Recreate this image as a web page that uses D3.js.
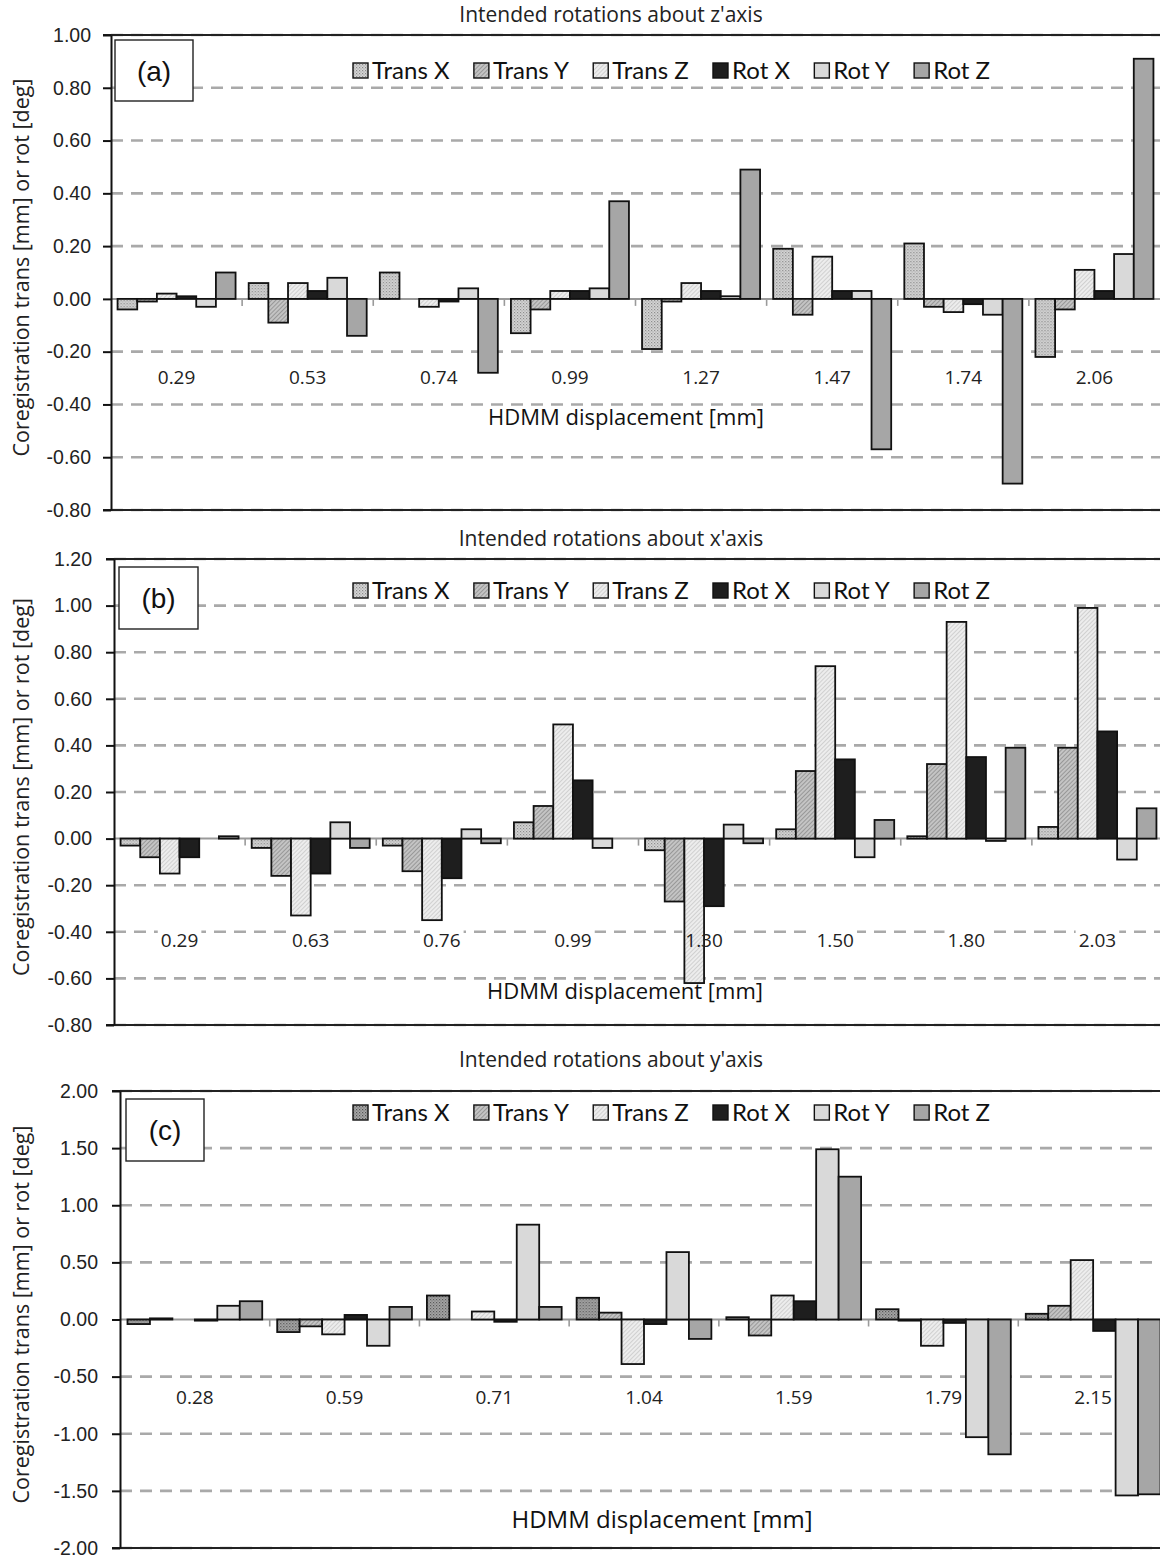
<!DOCTYPE html>
<html>
<head>
<meta charset="utf-8">
<script src="https://cdn.jsdelivr.net/npm/d3@7"></script>
<style>
  body { margin: 0; background: #fff; }
  svg { display: block; }
</style>
</head>
<body>
<div id="chart"></div>
<script>
// ── Coregistration errors for intended rotations (3 panels) ─────
const seriesNames = ["Trans X", "Trans Y", "Trans Z", "Rot X", "Rot Y", "Rot Z"];

// (a) rotations about z' axis
const catsA = ["0.29", "0.53", "0.74", "0.99", "1.27", "1.47", "1.74", "2.06"];
const valuesA = [
    [-0.04, -0.01,  0.02,  0.01, -0.03,  0.10],
    [ 0.06, -0.09,  0.06,  0.03,  0.08, -0.14],
    [ 0.10,  0.00, -0.03, -0.01,  0.04, -0.28],
    [-0.13, -0.04,  0.03,  0.03,  0.04,  0.37],
    [-0.19, -0.01,  0.06,  0.03,  0.01,  0.49],
    [ 0.19, -0.06,  0.16,  0.03,  0.03, -0.57],
    [ 0.21, -0.03, -0.05, -0.02, -0.06, -0.70],
    [-0.22, -0.04,  0.11,  0.03,  0.17,  0.91]
];
const ticksA = [-0.8, -0.6, -0.4, -0.2, 0, 0.2, 0.4, 0.6, 0.8, 1.0];

// (b) rotations about x' axis
const catsB = ["0.29", "0.63", "0.76", "0.99", "1.30", "1.50", "1.80", "2.03"];
const valuesB = [
    [-0.03, -0.08, -0.15, -0.08,  0.00,  0.01],
    [-0.04, -0.16, -0.33, -0.15,  0.07, -0.04],
    [-0.03, -0.14, -0.35, -0.17,  0.04, -0.02],
    [ 0.07,  0.14,  0.49,  0.25, -0.04,  0.00],
    [-0.05, -0.27, -0.62, -0.29,  0.06, -0.02],
    [ 0.04,  0.29,  0.74,  0.34, -0.08,  0.08],
    [ 0.01,  0.32,  0.93,  0.35, -0.01,  0.39],
    [ 0.05,  0.39,  0.99,  0.46, -0.09,  0.13]
];
const ticksB = [-0.8, -0.6, -0.4, -0.2, 0, 0.2, 0.4, 0.6, 0.8, 1.0, 1.2];

// (c) rotations about y' axis
const catsC = ["0.28", "0.59", "0.71", "1.04", "1.59", "1.79", "2.15"];
const valuesC = [
    [-0.04,  0.01,  0.00, -0.01,  0.12,  0.16],
    [-0.11, -0.06, -0.13,  0.04, -0.23,  0.11],
    [ 0.21,  0.00,  0.07, -0.02,  0.83,  0.11],
    [ 0.19,  0.06, -0.39, -0.04,  0.59, -0.17],
    [ 0.02, -0.14,  0.21,  0.16,  1.49,  1.25],
    [ 0.09, -0.01, -0.23, -0.03, -1.03, -1.18],
    [ 0.05,  0.12,  0.52, -0.10, -1.54, -1.53]
];
const ticksC = [-2, -1.5, -1, -0.5, 0, 0.5, 1, 1.5, 2];

const W = 1160, H = 1558;
const svg = d3.select("#chart").append("svg")
    .attr("width", W).attr("height", H)
    .attr("viewBox", `0 0 ${W} ${H}`);

// Fill patterns
const defs = svg.append("defs");
function dotPattern(id, bg, dot) {
    const p = defs.append("pattern").attr("id", id)
        .attr("width", 3).attr("height", 3).attr("patternUnits", "userSpaceOnUse");
    p.append("rect").attr("width", 3).attr("height", 3).attr("fill", bg);
    p.append("rect").attr("x", 0).attr("y", 0).attr("width", 1.2).attr("height", 1.2).attr("fill", dot);
    p.append("rect").attr("x", 1.5).attr("y", 1.5).attr("width", 1.0).attr("height", 1.0).attr("fill", dot);
}
function hatchPattern(id, bg, line) {
    const p = defs.append("pattern").attr("id", id)
        .attr("width", 3).attr("height", 3).attr("patternUnits", "userSpaceOnUse")
        .attr("patternTransform", "rotate(45)");
    p.append("rect").attr("width", 3).attr("height", 3).attr("fill", bg);
    p.append("line").attr("x1", 0).attr("y1", 0).attr("x2", 0).attr("y2", 3)
        .attr("stroke", line).attr("stroke-width", 1.2);
}
dotPattern("dotsLight", "#d6d6d6", "#8a8a8a");
dotPattern("dotsDark", "#a8a8a8", "#555");
hatchPattern("hatchMid", "#c4c4c4", "#7a7a7a");
hatchPattern("hatchLight", "#ededed", "#bdbdbd");

const fillsAB = ["url(#dotsLight)", "url(#hatchMid)", "url(#hatchLight)", "#1e1e1e", "#d9d9d9", "#a6a6a6"];
const fillsC  = ["url(#dotsDark)",  "url(#hatchMid)", "url(#hatchLight)", "#1e1e1e", "#d9d9d9", "#a6a6a6"];

const fmt = d => d3.format(".2f")(d).replace("\u2212", "-");

const panels = [
    { tag: "(a)", title: "Intended rotations about z'axis", cats: catsA, values: valuesA, ticks: ticksA,
      x0: 111, x1: 1160, y0: 510, y1: 35, titleY: 22, legendY: 70, catY: 384,
      xTitleX: 626, xTitleY: 425, xTitleSize: 22, tickPad: 12,
      box: [115, 40, 78, 61], fills: fillsAB },
    { tag: "(b)", title: "Intended rotations about x'axis", cats: catsB, values: valuesB, ticks: ticksB,
      x0: 114, x1: 1163, y0: 1025, y1: 559, titleY: 546, legendY: 590, catY: 947,
      xTitleX: 625, xTitleY: 999, xTitleSize: 22, tickPad: 14,
      box: [119, 567, 79, 62], fills: fillsAB },
    { tag: "(c)", title: "Intended rotations about y'axis", cats: catsC, values: valuesC, ticks: ticksC,
      x0: 120, x1: 1168, y0: 1548, y1: 1091, titleY: 1067, legendY: 1112, catY: 1404,
      xTitleX: 662, xTitleY: 1528, xTitleSize: 24, tickPad: 14,
      box: [126, 1099, 78, 62], fills: fillsC }
];

panels.forEach(p => drawPanel(p));

function drawPanel(p) {
    const g = svg.append("g");
    const yScale = d3.scaleLinear()
        .domain(d3.extent(p.ticks)).range([p.y0, p.y1]);
    const xScale = d3.scaleBand()
        .domain(p.cats).range([p.x0, p.x1])
        .paddingInner(0.1).paddingOuter(0.05);
    const xSub = d3.scaleBand()
        .domain(seriesNames).range([0, xScale.bandwidth()]).padding(0);
    const step = xScale.step();
    const zeroY = yScale(0);

    // Gridlines
    g.append("g").selectAll("line")
        .data(p.ticks.filter(t => t !== 0))
        .join("line")
        .attr("x1", p.x0).attr("x2", W)
        .attr("y1", d => yScale(d)).attr("y2", d => yScale(d))
        .attr("stroke", "#a9a9a9").attr("stroke-width", 2.6)
        .attr("stroke-dasharray", "12,8");

    // Top and bottom frame lines
    [p.ticks[0], p.ticks[p.ticks.length - 1]].forEach(t => {
        g.append("line")
            .attr("x1", p.x0 - 8).attr("x2", W)
            .attr("y1", yScale(t)).attr("y2", yScale(t))
            .attr("stroke", "#222").attr("stroke-width", 2);
    });

    // Category label backgrounds (break the gridlines)
    const labelBg = g.append("g");
    const labelText = [];
    p.cats.forEach(c => {
        const cx = xScale(c) + xScale.bandwidth() / 2;
        const t = labelBg.append("text")
            .attr("x", cx).attr("y", p.catY)
            .attr("text-anchor", "middle")
            .style("font-family", "'Open Sans', sans-serif").style("font-size", "19px")
            .text(c);
        const bb = t.node().getBBox();
        t.remove();
        labelBg.append("rect")
            .attr("x", bb.x - 3).attr("y", bb.y + 3)
            .attr("width", bb.width + 6).attr("height", bb.height - 6)
            .attr("fill", "#fff");
        labelText.push({ c, cx });
    });

    // Axis title
    g.append("text")
        .attr("x", p.xTitleX).attr("y", p.xTitleY)
        .attr("text-anchor", "middle")
        .style("font-family", "'Open Sans', sans-serif").style("font-size", p.xTitleSize + "px")
        .style("fill", "#111")
        .text("HDMM displacement [mm]");

    // Zero line and category separators
    g.append("line")
        .attr("x1", p.x0).attr("x2", W)
        .attr("y1", zeroY).attr("y2", zeroY)
        .attr("stroke", "#9a9a9a").attr("stroke-width", 2);
    g.append("g").selectAll("line")
        .data(p.cats.slice(1))
        .join("line")
        .attr("x1", d => xScale(d) - step * 0.05).attr("x2", d => xScale(d) - step * 0.05)
        .attr("y1", zeroY).attr("y2", zeroY + 7)
        .attr("stroke", "#9a9a9a").attr("stroke-width", 1.6);

    // Bars
    p.cats.forEach((c, i) => {
        const grp = g.append("g").attr("transform", `translate(${xScale(c)},0)`);
        seriesNames.forEach((s, j) => {
            const v = p.values[i][j];
            if (v === 0) return;
            grp.append("rect")
                .attr("x", xSub(s))
                .attr("y", Math.min(yScale(v), zeroY))
                .attr("width", xSub.bandwidth())
                .attr("height", Math.max(Math.abs(yScale(v) - zeroY), 1))
                .attr("fill", p.fills[j])
                .attr("stroke", "#111").attr("stroke-width", 1.8);
        });
    });

    // Category labels on top
    g.append("g").selectAll("text")
        .data(labelText)
        .join("text")
        .attr("x", d => d.cx).attr("y", p.catY)
        .attr("text-anchor", "middle")
        .style("font-family", "'Open Sans', sans-serif").style("font-size", "19px")
        .style("fill", "#222")
        .text(d => d.c);

    // Y axis
    const yAxis = g.append("g")
        .attr("transform", `translate(${p.x0},0)`)
        .call(d3.axisLeft(yScale).tickValues(p.ticks).tickFormat(fmt)
            .tickSize(8).tickSizeOuter(0).tickPadding(p.tickPad));
    yAxis.select(".domain").attr("stroke", "#111").attr("stroke-width", 2);
    yAxis.selectAll(".tick line").attr("stroke", "#111").attr("stroke-width", 2);
    yAxis.selectAll("text")
        .style("font-family", "'Liberation Sans', Arial, sans-serif")
        .style("font-size", "19.5px").style("fill", "#222");

    g.append("text")
        .attr("transform", `translate(29,${(p.y0 + p.y1) / 2 - 5}) rotate(-90)`)
        .attr("text-anchor", "middle")
        .style("font-family", "'Open Sans', sans-serif").style("font-size", "21.5px")
        .style("fill", "#222")
        .text("Coregistration trans [mm] or rot [deg]");

    // Panel title
    g.append("text")
        .attr("x", 611).attr("y", p.titleY)
        .attr("text-anchor", "middle")
        .style("font-family", "'Open Sans', sans-serif").style("font-size", "21px")
        .style("fill", "#222")
        .text(p.title);

    // Panel tag box
    g.append("rect")
        .attr("x", p.box[0]).attr("y", p.box[1])
        .attr("width", p.box[2]).attr("height", p.box[3])
        .attr("fill", "#fff").attr("stroke", "#222").attr("stroke-width", 1.4);
    g.append("text")
        .attr("x", p.box[0] + p.box[2] / 2).attr("y", p.box[1] + p.box[3] / 2 + 10)
        .attr("text-anchor", "middle")
        .style("font-family", "'Liberation Sans', Arial, sans-serif").style("font-size", "28px")
        .style("fill", "#111")
        .text(p.tag);

    // Legend: spread the items between x=353 and x=990
    const legend = g.append("g").attr("transform", `translate(353,${p.legendY})`);
    const items = seriesNames.map((s, j) => {
        const item = legend.append("g");
        item.append("rect")
            .attr("x", 0).attr("y", -7).attr("width", 15).attr("height", 15)
            .attr("fill", p.fills[j]).attr("stroke", "#111").attr("stroke-width", 1.4);
        const t = item.append("text")
            .attr("x", 19).attr("y", 9)
            .style("font-family", "Lato, 'Open Sans', sans-serif").style("font-size", "24px")
            .style("fill", "#111").text(s);
        return { item, w: 19 + t.node().getComputedTextLength() };
    });
    const gap = (637 - d3.sum(items, d => d.w)) / (items.length - 1);
    let cursor = 0;
    items.forEach(d => {
        d.item.attr("transform", `translate(${cursor},0)`);
        cursor += d.w + gap;
    });
}
</script>
</body>
</html>
